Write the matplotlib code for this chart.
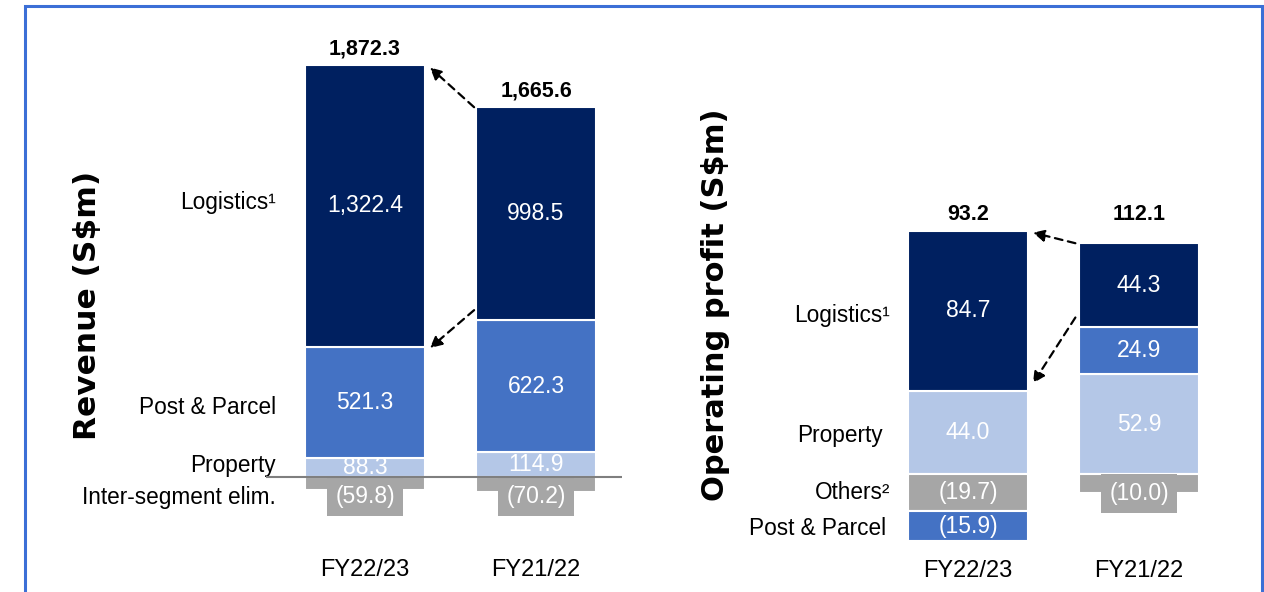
import matplotlib
matplotlib.use("Agg")
import matplotlib.pyplot as plt
from matplotlib.patches import Rectangle

plt.rcParams['font.family'] = ['Liberation Sans', 'DejaVu Sans']

# datos
years = ['FY22/23', 'FY21/22']
rev_property = [88.3, 114.9]
rev_post = [521.3, 622.3]
rev_logistics = [1322.4, 998.5]
rev_elim = [-59.8, -70.2]
rev_total = [1872.3, 1665.6]

op_property = [44.0, 52.9]
op_others = [-19.7, -10.0]
op_post = [-15.9, 24.9]
op_logistics = [84.7, 44.3]
op_total = [93.2, 112.1]

navy = '#002060'
blue = '#4472C4'
light = '#B4C7E7'
gray = '#A6A6A6'

W, H = 1264, 592
bw = 0.70
fs_val = 16.5
fs_lab = 16.3

fig = plt.figure(figsize=(W / 100, H / 100), dpi=100)


def px_axes(x0, x1, y0, y1):
    return fig.add_axes([x0 / W, 1 - y1 / H, (x1 - x0) / W, (y1 - y0) / H])


def fmt(v):
    s = f"{abs(v):,.1f}"
    return f"({s})" if v < 0 else s


def stack(ax, segments):
    # barras apiladas: positivos hacia arriba, negativos hacia abajo
    pos = [0.0] * len(years)
    neg = [0.0] * len(years)
    tops = []
    for vals, color in segments:
        seg_tops = []
        for i, v in enumerate(vals):
            base = pos[i] if v >= 0 else neg[i]
            z = 2 if v >= 0 else 4
            ax.bar(i, v, bw, bottom=base, color=color, edgecolor='white',
                   linewidth=1.5, zorder=z)
            mid = base + v / 2
            h_px = abs(ax.transData.transform((0, v))[1] - ax.transData.transform((0, 0))[1])
            if v < 0 and h_px < 30:
                ax.annotate(fmt(v), xy=(i, 0), xytext=(0, -6), textcoords='offset points',
                            ha='center', va='top', color='white', fontsize=fs_val, zorder=5,
                            bbox=dict(boxstyle='square,pad=0.35', fc=gray, ec='none'))
            else:
                ax.text(i, mid, fmt(v), ha='center', va='center', color='white',
                        fontsize=fs_val, zorder=3 if v >= 0 else 5)
            if v >= 0:
                pos[i] += v
            else:
                neg[i] += v
            seg_tops.append(pos[i] if v >= 0 else neg[i])
        tops.append(seg_tops)
    return pos, tops


def arrow(ax, start, end):
    ax.annotate('', xy=end, xytext=start,
                arrowprops=dict(arrowstyle='-|>,head_length=0.7,head_width=0.35',
                                linestyle=(0, (3.5, 2.5)), lw=1.6, color='black',
                                shrinkA=0, shrinkB=0), zorder=6)


# ---- Revenue ----
ax1 = px_axes(266, 622, 20, 592)
ax1.set_xlim((266 - 365) / 171, (622 - 365) / 171)
ax1.set_ylim(-(592 - 477) / 0.2133, (477 - 20) / 0.2133)
ax1.axis('off')

top1, t1 = stack(ax1, [(rev_property, light), (rev_post, blue),
                       (rev_logistics, navy), (rev_elim, gray)])
ax1.axhline(0, color='#7F7F7F', lw=1.5, zorder=6)

for i, tot in enumerate(rev_total):
    ax1.annotate(f"{tot:,.1f}", xy=(i, top1[i]), xytext=(0, 4), textcoords='offset points',
                 ha='center', va='bottom', fontsize=15.5, fontweight='bold')

for i, y in enumerate(years):
    ax1.text(i, -436, y, ha='center', va='center', fontsize=17)

for txt, y in [('Logistics\u00b9', 1285), ('Post & Parcel', 328),
               ('Property', 56), ('Inter-segment elim.', -94)]:
    ax1.text(-0.52, y, txt, ha='right', va='center', fontsize=fs_lab)

xl, xr = 1 - bw / 2 - 0.012, bw / 2 + 0.03
arrow(ax1, (xl, top1[1] - 2), (xr, top1[0] - 12))
arrow(ax1, (xl, t1[1][1] + 45), (xr, t1[1][0] - 5))

# ---- Operating profit ----
ax2 = px_axes(890, 1230, 20, 592)
ax2.set_xlim((890 - 968) / 171, (1230 - 968) / 171)
ax2.set_ylim(-(592 - 474) / 1.89, (474 - 20) / 1.89)
ax2.axis('off')

top2, t2 = stack(ax2, [(op_property, light), (op_others, gray),
                       (op_post, blue), (op_logistics, navy)])

ytot = max(top2)
for i, tot in enumerate(op_total):
    ax2.annotate(f"{tot:,.1f}", xy=(i, ytot), xytext=(0, 4), textcoords='offset points',
                 ha='center', va='bottom', fontsize=15.5, fontweight='bold')

for i, y in enumerate(years):
    ax2.text(i, -51.3, y, ha='center', va='center', fontsize=17)

for txt, x, y in [('Logistics\u00b9', -0.456, 84), ('Property', -0.497, 20.6),
                  ('Others\u00b2', -0.456, -10), ('Post & Parcel', -0.48, -29)]:
    ax2.text(x, y, txt, ha='right', va='center', fontsize=fs_lab)

arrow(ax2, (xl - 0.01, top2[1]), (xr, top2[0] - 1))
arrow(ax2, (xl - 0.01, t2[2][1] + 5), (xr, t2[0][0] + 4))

# ejes y
fig.text(88 / W, 1 - 305 / H, 'Revenue (S$m)', rotation=90, ha='center', va='center',
         fontsize=22.5, fontweight='bold', family='DejaVu Sans')
fig.text(716 / W, 1 - 305 / H, 'Operating profit (S$m)', rotation=90, ha='center',
         va='center', fontsize=22, fontweight='bold', family='DejaVu Sans')

# marco
fig.patches.append(Rectangle((25 / W, -0.05), (1262 - 25) / W, 1.05 - 6 / H,
                             transform=fig.transFigure, fill=False,
                             edgecolor='#3C6FD6', lw=2.2))

fig.savefig('out.png', dpi=100)
